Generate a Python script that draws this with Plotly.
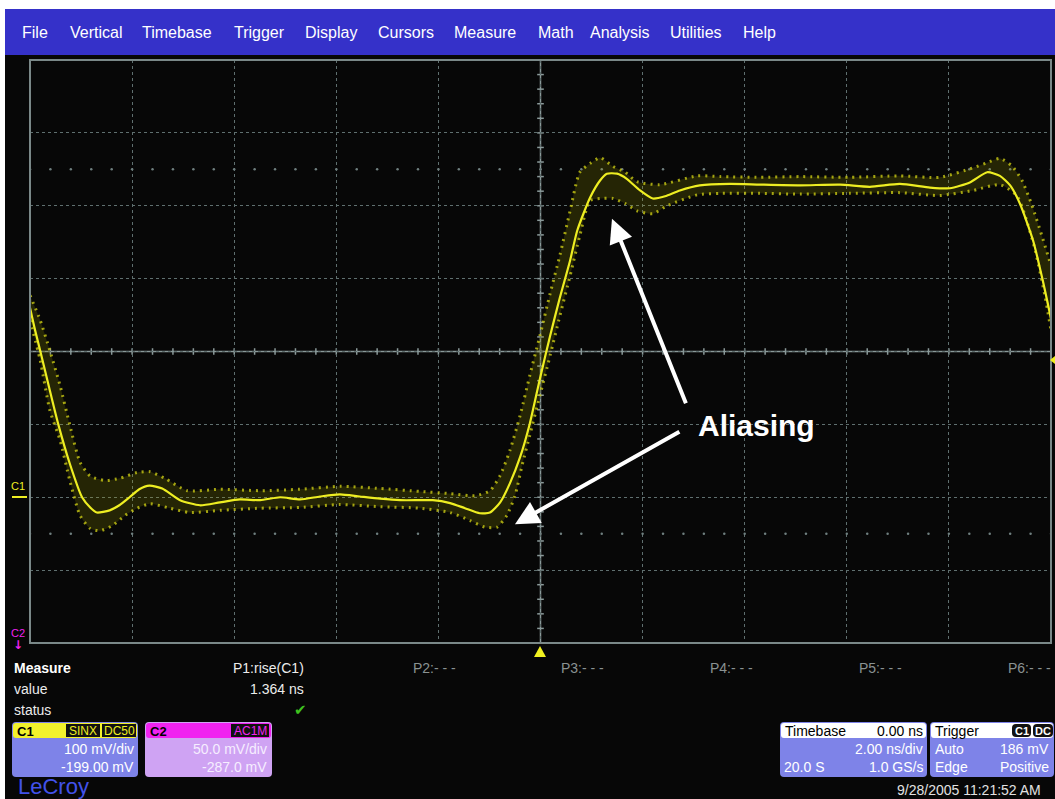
import numpy as np
import plotly.graph_objects as go

# C1 trace: time in ns (2 ns/div), voltage in mV (100 mV/div, centre = 199 mV)
time_ns = [-10.0, -9.90, -9.80, -9.61, -9.45, -9.22, -8.98, -8.82, -8.69, -8.44, -8.25, -8.05,
           -7.86, -7.66, -7.41, -7.06, -6.67, -6.28, -5.89, -5.49, -5.10, -4.71, -4.32, -3.93,
           -3.54, -3.14, -2.75, -2.36, -2.11, -1.77, -1.48, -1.19, -0.99, -0.79, -0.60, -0.40,
           -0.21, -0.01, 0.19, 0.38, 0.58, 0.72, 0.97, 1.17, 1.30, 1.50, 1.69, 1.95, 2.20, 2.44,
           2.73, 3.12, 3.71, 4.30, 5.08, 5.87, 6.45, 7.04, 7.63, 8.02, 8.41, 8.75, 9.00, 9.20,
           9.39, 9.65, 9.84, 10.0]
c1_mv = [259, 228, 200, 145, 100, 45, -1, -15, -22, -19, -12, -1, 10, 15, 11, -5, -12, -8, -4,
         -5, -1, -4, 0, 3, 0, -3, -5, -5, -5, -9, -16, -23, -22, -8, 18, 54, 100, 162, 221, 273,
         324, 365, 410, 434, 443, 443, 436, 420, 409, 412, 420, 427, 429, 428, 427, 428, 425, 429,
         424, 423, 431, 445, 440, 427, 402, 351, 296, 244]

# upper / lower extent of the aliased sample cloud
alias_hi_t = [-10.0, -9.80, -9.61, -9.41, -9.22, -9.02, -8.82, -8.53, -8.24, -7.90, -7.65, -7.36,
              -6.92, -6.28, -5.49, -4.71, -3.93, -3.14, -2.36, -1.77, -1.28, -0.99, -0.79, -0.60,
              -0.40, -0.21, -0.01, 0.19, 0.38, 0.58, 0.77, 0.97, 1.17, 1.42, 1.66, 1.89, 2.34, 3.07,
              3.52, 4.30, 5.08, 6.06, 7.04, 7.82, 8.47, 8.75, 9.00, 9.23, 9.43, 9.63, 9.82, 10.0]
alias_hi_mv = [276, 242, 200, 152, 98, 47, 28, 22, 25, 33, 34, 25, 8, 10, 8, 10, 14, 11, 7, 4, 1,
               8, 29, 63, 111, 166, 221, 279, 331, 392, 445, 457, 465, 453, 445, 432, 428, 440, 439,
               438, 439, 438, 440, 438, 451, 458, 464, 454, 434, 399, 358, 317]
alias_lo_t = [-10.0, -9.80, -9.61, -9.41, -9.22, -9.02, -8.82, -8.63, -8.39, -8.14, -7.90, -7.65,
              -7.26, -6.87, -6.28, -5.49, -4.71, -3.93, -3.14, -2.36, -1.77, -1.38, -1.09, -0.85,
              -0.66, -0.50, -0.36, -0.21, -0.01, 0.19, 0.38, 0.58, 0.77, 0.97, 1.17, 1.42, 1.66,
              1.89, 2.20, 2.48, 3.07, 3.52, 4.30, 5.08, 6.06, 7.04, 7.82, 8.47, 9.00, 9.33, 9.49,
              9.69, 9.88, 10.0]
alias_lo_mv = [242, 187, 118, 77, 22, -26, -44, -47, -40, -26, -16, -10, -16, -22, -19, -16, -15,
               -11, -14, -16, -22, -33, -42, -42, -26, 1, 43, 84, 139, 194, 248, 303, 358, 406, 409,
               409, 402, 392, 388, 399, 414, 416, 416, 415, 416, 417, 413, 420, 428, 413, 386, 338,
               276, 228]

menu_items = ["File", "Vertical", "Timebase", "Trigger", "Display", "Cursors", "Measure", "Math",
              "Analysis", "Utilities", "Help"]
param_labels = ["P2:- - -", "P3:- - -", "P4:- - -", "P5:- - -", "P6:- - -"]

# screen settings
T_MIN, T_MAX, T_DIV = -10.0, 10.0, 2.0
V_CENTER, V_DIV = 199.0, 100.0
V_MIN, V_MAX = V_CENTER - 4 * V_DIV, V_CENTER + 4 * V_DIV

# ---------------- geometry helpers ----------------
W, H = 1055, 799
L, R, T, B = 30, 1051, 60, 643


def px(x):
    return (x - L) / (R - L)


def py(y):
    return (B - y) / (B - T)


FONT = "Liberation Sans"
YEL = "#eeee22"
shapes = []
annos = []


def rect(x0, y0, x1, y1, fill, line=None, lw=0):
    shapes.append(dict(type="rect", xref="paper", yref="paper", x0=px(x0), x1=px(x1),
                       y0=py(y1), y1=py(y0), fillcolor=fill,
                       line=dict(width=lw, color=line or fill), layer="above"))


def rrect(x0, y0, x1, y1, fill, r=4):
    p = (f"M {px(x0 + r)},{py(y0)} L {px(x1 - r)},{py(y0)} Q {px(x1)},{py(y0)} {px(x1)},{py(y0 + r)} "
         f"L {px(x1)},{py(y1 - r)} Q {px(x1)},{py(y1)} {px(x1 - r)},{py(y1)} "
         f"L {px(x0 + r)},{py(y1)} Q {px(x0)},{py(y1)} {px(x0)},{py(y1 - r)} "
         f"L {px(x0)},{py(y0 + r)} Q {px(x0)},{py(y0)} {px(x0 + r)},{py(y0)} Z")
    shapes.append(dict(type="path", xref="paper", yref="paper", path=p, fillcolor=fill,
                       line=dict(width=0), layer="above"))


def txt(s, x, y, size=14, color="white", xa="left", bold=False, ya="middle", family=FONT):
    annos.append(dict(text=s, x=px(x), y=py(y), xref="paper", yref="paper", xanchor=xa,
                      yanchor=ya, showarrow=False,
                      font=dict(family=family, size=size, color=color,
                                weight="bold" if bold else "normal")))


# ---------------- traces ----------------
fig = go.Figure()
# dot rows at +/-2.5 div
dot_t = np.arange(T_MIN, T_MAX + 1e-9, T_DIV / 5)
for lvl in (V_CENTER + 2.5 * V_DIV, V_CENTER - 2.5 * V_DIV):
    fig.add_trace(go.Scatter(x=dot_t, y=[lvl] * len(dot_t), mode="markers",
                             marker=dict(size=2.5, color="#6f7f7f"), hoverinfo="skip"))

fig.add_trace(go.Scatter(x=alias_hi_t, y=alias_hi_mv, mode="lines",
                         line=dict(color="rgba(200,200,20,0.8)", width=3, dash="2px,5px",
                                   shape="spline", smoothing=0.6), hoverinfo="skip"))
fig.add_trace(go.Scatter(x=alias_lo_t, y=alias_lo_mv, mode="lines", fill="tonexty",
                         fillcolor="rgba(160,160,0,0.2)",
                         line=dict(color="rgba(200,200,20,0.8)", width=3, dash="2px,5px",
                                   shape="spline", smoothing=0.6), hoverinfo="skip"))
fig.add_trace(go.Scatter(x=time_ns, y=c1_mv, mode="lines",
                         line=dict(color=YEL, width=2.2, shape="spline", smoothing=0.6),
                         name="C1"))

# ---------------- graticule ----------------
GR = "#8a9999"
shapes.append(dict(type="line", xref="x", yref="y", x0=0, x1=0, y0=V_MIN, y1=V_MAX,
                   line=dict(color=GR, width=1.5), layer="below"))
shapes.append(dict(type="line", xref="x", yref="y", x0=T_MIN, x1=T_MAX, y0=V_CENTER, y1=V_CENTER,
                   line=dict(color=GR, width=1.5), layer="below"))
for t in np.arange(T_MIN, T_MAX + 1e-9, T_DIV / 5):
    shapes.append(dict(type="line", xref="x", yref="y", x0=t, x1=t, y0=V_CENTER - 4.5,
                       y1=V_CENTER + 4.5, line=dict(color=GR, width=1.5), layer="below"))
for v in np.arange(V_MIN, V_MAX + 1e-9, V_DIV / 5):
    shapes.append(dict(type="line", xref="x", yref="y", x0=-0.065, x1=0.065, y0=v, y1=v,
                       line=dict(color=GR, width=1.5), layer="below"))
# border
shapes.append(dict(type="rect", xref="paper", yref="paper", x0=0, x1=1, y0=0, y1=1,
                   line=dict(color="#7a8888", width=2), layer="above"))

# ---------------- page chrome ----------------
rect(0, 0, 1055, 9, "white")
rect(0, 0, 5, 799, "white")
rect(5, 9, 1055, 55, "#3531c9")
menu_x = [20, 68, 140, 232, 303, 376, 452, 536, 588, 668, 741]
for item, mx in zip(menu_items, menu_x):
    txt(item, mx, 33, size=16, color="white")

# channel markers on the left
shapes.append(dict(type="line", xref="paper", yref="paper", x0=px(12), x1=px(27), y0=py(497),
                   y1=py(497), line=dict(color=YEL, width=2)))
txt("C1", 18, 486, size=11, color=YEL, xa="center")
txt("C2", 18, 633, size=11, color="#ee22ee", xa="center")
txt("↓", 18, 645, size=12, color="#ee22ee", xa="center", bold=True, family="DejaVu Sans")
# trigger markers
shapes.append(dict(type="path", xref="paper", yref="paper",
                   path=f"M {px(534)},{py(657)} L {px(546)},{py(657)} L {px(540)},{py(646)} Z",
                   fillcolor="#f0f020", line=dict(width=0)))
shapes.append(dict(type="path", xref="paper", yref="paper",
                   path=f"M {px(1050)},{py(360)} L {px(1055)},{py(356)} L {px(1055)},{py(364)} Z",
                   fillcolor="#f0f020", line=dict(width=0)))

# measurement table
txt("Measure", 12, 668, size=14, bold=True)
txt("value", 12, 689, size=14, color="#ececec")
txt("status", 12, 710, size=14, color="#ececec")
txt("P1:rise(C1)", 306, 668, size=14, color="#ececec", xa="right")
txt("1.364 ns", 306, 689, size=14, color="#ececec", xa="right")
txt("✔", 300, 710, size=15, color="#3fc31f", xa="center", family="DejaVu Sans")
for lab, lx in zip(param_labels, [411, 559, 708, 857, 1006]):
    txt(lab, lx, 668, size=14, color="#8a9292")

# C1 box
BOX = "#7e83e8"
rrect(12, 722, 138, 777, BOX)
rrect(13, 723, 137, 738, "#f2f22c", r=3)
txt("C1", 15, 731, size=13, color="black", bold=True)
rect(66, 724, 100, 737, "#111111")
rect(102, 724, 136, 737, "#111111")
txt("SINX", 83, 731, size=12, color=YEL, xa="center")
txt("DC50", 119, 731, size=12, color=YEL, xa="center")
txt("100 mV/div", 136, 749, size=14, xa="right")
txt("-199.00 mV", 136, 767, size=14, xa="right")

# C2 box
rrect(145, 722, 272, 777, "#cfa3f3")
rrect(146, 723, 271, 738, "#f022f0", r=3)
txt("C2", 148, 731, size=13, color="black", bold=True)
rect(231, 724, 269, 737, "#111111")
txt("AC1M", 250, 731, size=12, color="#f022f0", xa="center")
txt("50.0 mV/div", 269, 749, size=14, color="#f6eeff", xa="right")
txt("-287.0 mV", 269, 767, size=14, color="#f6eeff", xa="right")

# Timebase box
rrect(780, 722, 927, 777, BOX)
rrect(781, 723, 926, 738, "white", r=3)
txt("Timebase", 783, 731, size=14, color="black")
txt("0.00 ns", 925, 731, size=14, color="black", xa="right")
txt("2.00 ns/div", 925, 749, size=14, xa="right")
txt("20.0 S", 782, 767, size=14)
txt("1.0 GS/s", 925, 767, size=14, xa="right")

# Trigger box
rrect(930, 722, 1054, 777, BOX)
rrect(931, 723, 1053, 738, "white", r=3)
txt("Trigger", 933, 731, size=14, color="black")
rrect(1012, 724, 1031, 737, "#111111", r=4)
rrect(1033, 724, 1053, 737, "#111111", r=4)
txt("C1", 1021.5, 731, size=11, color="white", xa="center", bold=True)
txt("DC", 1043, 731, size=11, color="white", xa="center", bold=True)
txt("Auto", 933, 749, size=14)
txt("186 mV", 1051, 749, size=14, xa="right")
txt("Edge", 933, 767, size=14)
txt("Positive", 1051, 767, size=14, xa="right")

txt("9/28/2005 11:21:52 AM", 1043, 790, size=14, color="#e2e2e2", xa="right")
txt("LeCroy", 16, 772, size=22, color="#4252ea", ya="top")

# ---------------- aliasing call-out ----------------
annos.append(dict(text="<b>Aliasing</b>", x=4.24, y=97, xref="x", yref="y", showarrow=False,
                  font=dict(family=FONT, size=30, color="white")))
annos.append(dict(text="", x=1.40, y=381, ax=2.86, ay=126, xref="x", yref="y", axref="x",
                  ayref="y", showarrow=True, arrowhead=2, arrowsize=1.2, arrowwidth=4,
                  arrowcolor="white"))
annos.append(dict(text="", x=-0.50, y=-38, ax=2.75, ay=90, xref="x", yref="y", axref="x",
                  ayref="y", showarrow=True, arrowhead=2, arrowsize=1.2, arrowwidth=4,
                  arrowcolor="white"))

fig.update_layout(
    width=W, height=H, margin=dict(l=L, r=W - R, t=T, b=H - B),
    paper_bgcolor="#070707", plot_bgcolor="#070707", showlegend=False,
    xaxis=dict(range=[T_MIN, T_MAX], tick0=T_MIN, dtick=T_DIV, showgrid=True, griddash="dot",
               gridcolor="#5f6f6f", gridwidth=1, zeroline=False, showticklabels=False,
               ticks="", showline=False, fixedrange=True),
    yaxis=dict(range=[V_MIN, V_MAX], tick0=V_MIN, dtick=V_DIV, showgrid=True, griddash="dot",
               gridcolor="#5f6f6f", gridwidth=1, zeroline=False, showticklabels=False,
               ticks="", showline=False, fixedrange=True),
    shapes=shapes, annotations=annos,
)

fig.write_html("out.html", config={"displayModeBar": False},
               post_script="document.body.style.margin='0';document.body.style.padding='0';"
                           "document.body.style.overflow='hidden';")
